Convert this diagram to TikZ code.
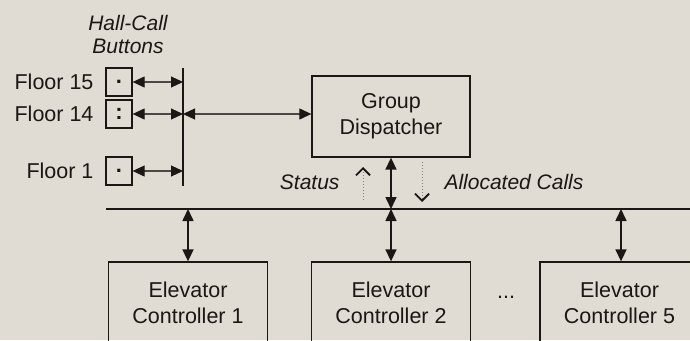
\documentclass[tikz,border=0pt]{standalone}
\usepackage{fontspec}
\setmainfont{Liberation Sans}
\usetikzlibrary{arrows.meta}
\definecolor{bg}{RGB}{224,220,211}
\definecolor{ink}{RGB}{28,22,21}
\definecolor{dotc}{RGB}{135,127,120}
\begin{document}
\begin{tikzpicture}[x=1pt,y=-1pt,
  every node/.style={font=\fontsize{21.5}{26}\selectfont, text=ink},
  box/.style={draw=ink, line width=1.3pt, align=center, inner sep=0pt},
  btn/.style={draw=ink, line width=1.3pt, minimum width=26pt, minimum height=28pt, inner sep=0pt, font=\fontsize{22}{26}\selectfont\bfseries},
  link/.style={draw=ink, line width=1.6pt, {Triangle[length=12pt,width=11pt]}-{Triangle[length=12pt,width=11pt]}},
  thinlink/.style={draw=ink!75!bg, line width=1.1pt, {Triangle[length=12pt,width=11pt,color=ink]}-{Triangle[length=12pt,width=11pt,color=ink]}},
  flow/.style={draw=dotc, line width=1pt, dotted, -{Straight Barb[length=7pt,width=14pt,line width=1.8pt,color=ink]}},
  lbl/.style={font=\fontsize{21}{23}\selectfont\itshape}]
\fill[bg] (0,0) rectangle (690,340);
\useasboundingbox (0,0) rectangle (690,340);
\begin{scope}
\clip (0,0) rectangle (690,340);
% hall-call section
\node[lbl, align=center] (hc) at (128,34) {Hall-Call\\Buttons};
\node[btn] (b15) at (119,82) {.};
\node[btn] (b14) at (119,114) {:};
\node[btn] (b1) at (119,171) {.};
\node[anchor=east] (f15) at (97,82) {Floor 15};
\node[anchor=east] (f14) at (97,114) {Floor 14};
\node[anchor=east] (f1) at (97,171) {Floor 1};
\coordinate (vt) at (183,68);
\coordinate (vb) at (183,186);
\draw[draw=ink, line width=1.5pt] (vt) -- (vb);
\draw[thinlink] (b15.east) -- (b15.east -| vt);
\draw[thinlink] (b14.east) -- (b14.east -| vt);
\draw[thinlink] (b1.east) -- (b1.east -| vt);
% dispatcher
\node[box, minimum width=158pt, minimum height=81pt] (gd) at (391,116.5) {Group\\Dispatcher};
\draw[thinlink] (b14.east -| vt) -- (gd.west |- b14.east);
% bus
\coordinate (bl) at (106,209);
\coordinate (br) at (695,209);
\draw[draw=ink, line width=1.7pt] (bl) -- (br);
\draw[link] (gd.south) -- (gd.south |- bl);
\coordinate (s1) at (363,200);
\coordinate (s2) at (363,167);
\coordinate (a1) at (422,162);
\coordinate (a2) at (422,202);
\draw[flow] (s1) -- (s2);
\draw[flow] (a1) -- (a2);
\node[lbl, anchor=east] (st) at (343,182) {Status};
\node[lbl, anchor=west] (ac) at (441,182) {Allocated Calls};
% controllers
\node[box, minimum width=159pt, minimum height=82pt] (ec1) at (188,303) {Elevator\\Controller 1};
\node[box, minimum width=159pt, minimum height=82pt] (ec2) at (391,303) {Elevator\\Controller 2};
\node[box, minimum width=159pt, minimum height=82pt] (ec5) at (619.5,303) {Elevator\\Controller 5};
\node (dots) at (506,297) {...};
\draw[link] (ec1.north |- bl) -- (ec1.north);
\draw[link] (ec2.north |- bl) -- (ec2.north);
\draw[link] ([xshift=1.5pt]ec5.north |- bl) -- ([xshift=1.5pt]ec5.north);
\end{scope}
\end{tikzpicture}
\end{document}
